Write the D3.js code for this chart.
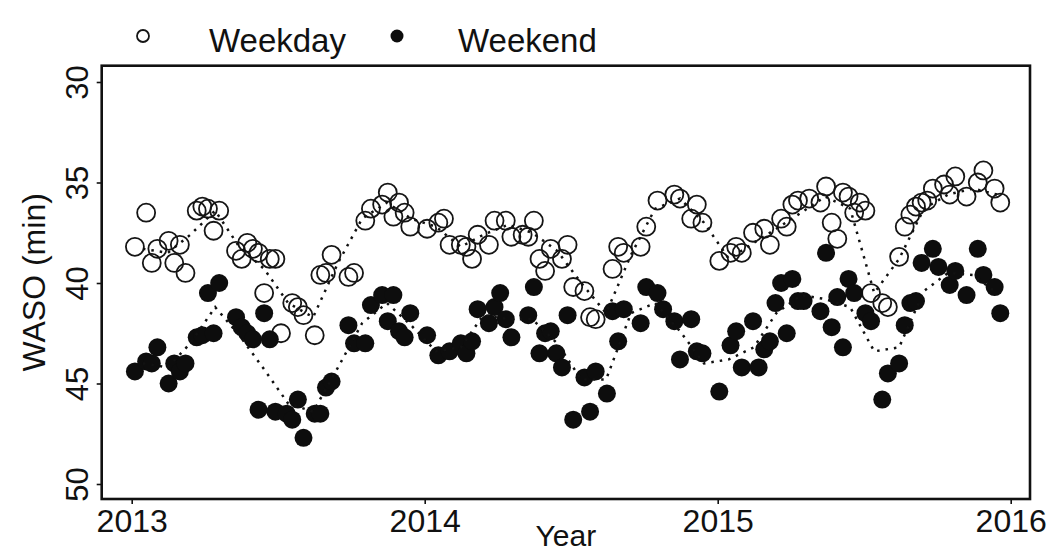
<!DOCTYPE html>
<html>
<head>
<meta charset="utf-8">
<script src="https://cdn.jsdelivr.net/npm/d3@7"></script>
<style>
  body { margin: 0; background: #fff; }
  svg { display: block; }
  text { font-family: "Liberation Sans", Arial, Helvetica, sans-serif; fill: #111; }
</style>
</head>
<body>
<svg id="chart" width="1048" height="553"></svg>
<script>
// Weekly mean wake after sleep onset (minutes), one value per week from the first week of 2013.
// null = no estimate for that week.
const seriesNames = ["Weekday", "Weekend"];
const yearTicks = [2013, 2014, 2015, 2016];
const wasoTicks = [30, 35, 40, 45, 50];
const firstWeek = "2013-01-05";

const weekdayWASO = [
  38.2, null, 36.5, 39.0, 38.3, null, 37.9, 39.0, 38.1, 39.5,
  null, 36.4, 36.2, 36.3, 37.4, 36.4, null, null, 38.4, 38.8,
  38.0, 38.3, 38.5, 40.5, 38.8, 38.8, 42.5, null, 41.0, 41.2,
  41.6, null, 42.6, 39.6, 39.5, 38.6, null, null, 39.7, 39.5,
  null, 36.9, 36.3, null, 36.1, 35.5, 36.7, 36.0, 36.5, 37.2,
  null, null, 37.3, null, 37.0, 36.8, 38.1, null, 38.1, 38.2,
  38.8, 37.6, null, 38.1, 36.9, null, 36.9, 37.7, null, 37.6,
  37.7, 36.9, 38.8, 39.4, 38.3, null, 38.8, 38.1, 40.2, null,
  40.4, 41.7, 41.8, null, null, 39.3, 38.2, 38.5, null, null,
  38.2, 37.2, null, 35.9, null, null, 35.6, 35.8, null, 36.8,
  36.1, 37.0, null, null, 38.9, null, 38.5, 38.2, 38.5, null,
  37.5, null, 37.3, 38.1, null, 36.8, 37.2, 36.1, 35.9, null,
  35.8, null, 36.0, 35.2, 37.0, 37.8, 35.5, 35.7, 36.5, 36.0,
  36.4, 40.5, null, 41.0, 41.2, null, 38.7, 37.2, 36.6, 36.2,
  36.0, 35.9, 35.3, null, 35.1, 35.6, 34.7, null, 35.7, null,
  35.0, 34.4, null, 35.3, 36.0
];

const weekendWASO = [
  44.4, null, 43.9, 44.0, 43.2, null, 45.0, 44.0, 44.4, 44.0,
  null, 42.7, 42.6, 40.5, 42.5, 40.0, null, null, 41.7, 42.2,
  42.5, 42.8, 46.3, 41.5, 42.8, 46.4, null, 46.5, 46.8, 45.8,
  47.7, null, 46.5, 46.5, 45.2, 44.9, null, null, 42.1, 43.0,
  null, 43.0, 41.1, null, 40.6, 41.9, 40.6, 42.4, 42.7, 41.5,
  null, null, 42.6, null, 43.6, null, 43.4, null, 43.0, 43.5,
  42.9, 41.3, null, 42.0, 41.2, 40.5, 41.8, 42.7, null, null,
  41.6, 40.2, 43.5, 42.5, 42.4, 43.5, 44.2, 41.6, 46.8, null,
  44.7, 46.4, 44.4, null, 45.5, 41.4, 42.9, 41.3, null, null,
  42.0, 40.2, null, 40.5, 41.3, null, 41.9, 43.8, null, 41.8,
  43.4, 43.5, null, null, 45.4, null, 43.1, 42.4, 44.2, null,
  41.9, 44.2, 43.3, 42.9, 41.0, 40.0, 42.5, 39.8, 40.9, 40.9,
  null, null, 41.4, 38.5, 42.2, 40.7, 43.2, 39.8, 40.5, null,
  41.5, 41.9, null, 45.8, 44.5, null, 44.0, 42.1, 41.0, 40.9,
  39.0, null, 38.3, 39.2, null, 40.1, 39.4, null, 40.6, null,
  38.3, 39.6, null, 40.2, 41.5
];

// Monthly means, Jan 2013 .. Dec 2015, drawn as dotted lines.
const weekdayMonthly = [
  38.3, 38.5, 37.6, 36.4, 38.2, 39.3, 41.0, 41.7, 39.0, 36.8, 36.0, 36.8,
  37.2, 38.2, 37.6, 37.1, 37.5, 38.4, 40.0, 41.5, 38.6, 36.3, 35.8, 37.0,
  38.8, 38.0, 37.3, 36.5, 35.7, 36.3, 40.5, 38.8, 36.3, 35.6, 35.3, 35.6
];
const weekendMonthly = [
  44.0, 44.2, 43.0, 41.2, 42.6, 44.3, 46.0, 46.4, 44.2, 42.0, 41.0, 42.1,
  43.4, 43.2, 41.6, 41.8, 41.8, 43.0, 44.8, 44.8, 41.5, 41.0, 42.4, 44.0,
  43.8, 43.2, 41.5, 40.6, 40.8, 41.2, 43.4, 43.2, 40.4, 39.5, 39.6, 40.5
];

// ---- layout ----
const svg = d3.select("#chart");
const panel = { left: 101.7, right: 1030, top: 65.7, bottom: 499 };
const ink = "#111";
const fontFamily = '"Liberation Sans", Arial, sans-serif';

const start = d3.utcParse("%Y-%m-%d")(firstWeek);
const weekDate = i => d3.utcDay.offset(start, 7 * i);
const monthDate = i => new Date(Date.UTC(2013, i, 15));

const x = d3.scaleUtc()
  .domain([new Date(Date.UTC(yearTicks[0], 0, 1)), new Date(Date.UTC(yearTicks[yearTicks.length - 1], 0, 1))])
  .range([131.7, 1010.7]);
const y = d3.scaleLinear().domain([30, 50]).range([82, 484]);

const toPoints = arr => arr.map((v, i) => ({ d: weekDate(i), v })).filter(p => p.v !== null);
const toMonthly = arr => arr.map((v, i) => ({ d: monthDate(i), v }));

// ---- axes ----
const xAxis = d3.axisBottom(x)
  .tickValues(yearTicks.map(yr => new Date(Date.UTC(yr, 0, 1))))
  .tickFormat(d3.utcFormat("%Y"))
  .tickSize(5)
  .tickPadding(6);
const gx = svg.append("g").attr("transform", `translate(0,${panel.bottom})`).call(xAxis);
gx.select(".domain").remove();
gx.selectAll(".tick line").attr("stroke", ink).attr("stroke-width", 1.6);
gx.selectAll(".tick text").attr("font-size", 32).attr("fill", ink)
  .attr("font-family", fontFamily).attr("dy", "0.68em");

const yAxis = d3.axisLeft(y).tickValues(wasoTicks).tickSize(5);
const gy = svg.append("g").attr("transform", `translate(${panel.left},0)`).call(yAxis);
gy.select(".domain").remove();
gy.selectAll(".tick line").attr("stroke", ink).attr("stroke-width", 1.6);
gy.selectAll(".tick text")
  .attr("font-size", 31).attr("fill", ink)
  .attr("font-family", fontFamily)
  .attr("x", 0).attr("y", -13.5).attr("dy", 0)
  .attr("text-anchor", "middle")
  .attr("transform", "rotate(-90)");

// axis titles
svg.append("text")
  .attr("x", (panel.left + panel.right) / 2).attr("y", 546)
  .attr("text-anchor", "middle").attr("font-size", 30)
  .text("Year");
svg.append("text")
  .attr("transform", `translate(45,${(panel.top + panel.bottom) / 2}) rotate(-90)`)
  .attr("text-anchor", "middle").attr("font-size", 32)
  .text("WASO (min)");

// ---- marks ----
const r = 9;
svg.append("g").selectAll("circle")
  .data(toPoints(weekdayWASO)).join("circle")
  .attr("cx", p => x(p.d)).attr("cy", p => y(p.v)).attr("r", r)
  .attr("fill", "none").attr("stroke", "#151515").attr("stroke-width", 1.8);

svg.append("g").selectAll("circle")
  .data(toPoints(weekendWASO)).join("circle")
  .attr("cx", p => x(p.d)).attr("cy", p => y(p.v)).attr("r", r)
  .attr("fill", "#0d0d0d");

const line = d3.line().x(p => x(p.d)).y(p => y(p.v));
[weekdayMonthly, weekendMonthly].forEach(arr => {
  svg.append("path")
    .datum(toMonthly(arr))
    .attr("d", line)
    .attr("fill", "none").attr("stroke", ink)
    .attr("stroke-width", 2.5)
    .attr("stroke-dasharray", "2.5,6");
});

// panel frame
svg.append("rect")
  .attr("x", panel.left).attr("y", panel.top)
  .attr("width", panel.right - panel.left).attr("height", panel.bottom - panel.top)
  .attr("fill", "none").attr("stroke", ink).attr("stroke-width", 2.6);

// ---- legend ----
const legend = svg.append("g");
legend.append("circle").attr("cx", 143).attr("cy", 36).attr("r", 6)
  .attr("fill", "none").attr("stroke", "#151515").attr("stroke-width", 1.8);
legend.append("text").attr("x", 209).attr("y", 52).attr("font-size", 33).text(seriesNames[0]);
legend.append("circle").attr("cx", 397).attr("cy", 36).attr("r", 6.5).attr("fill", "#0d0d0d");
legend.append("text").attr("x", 458).attr("y", 52).attr("font-size", 33).text(seriesNames[1]);
</script>
</body>
</html>
